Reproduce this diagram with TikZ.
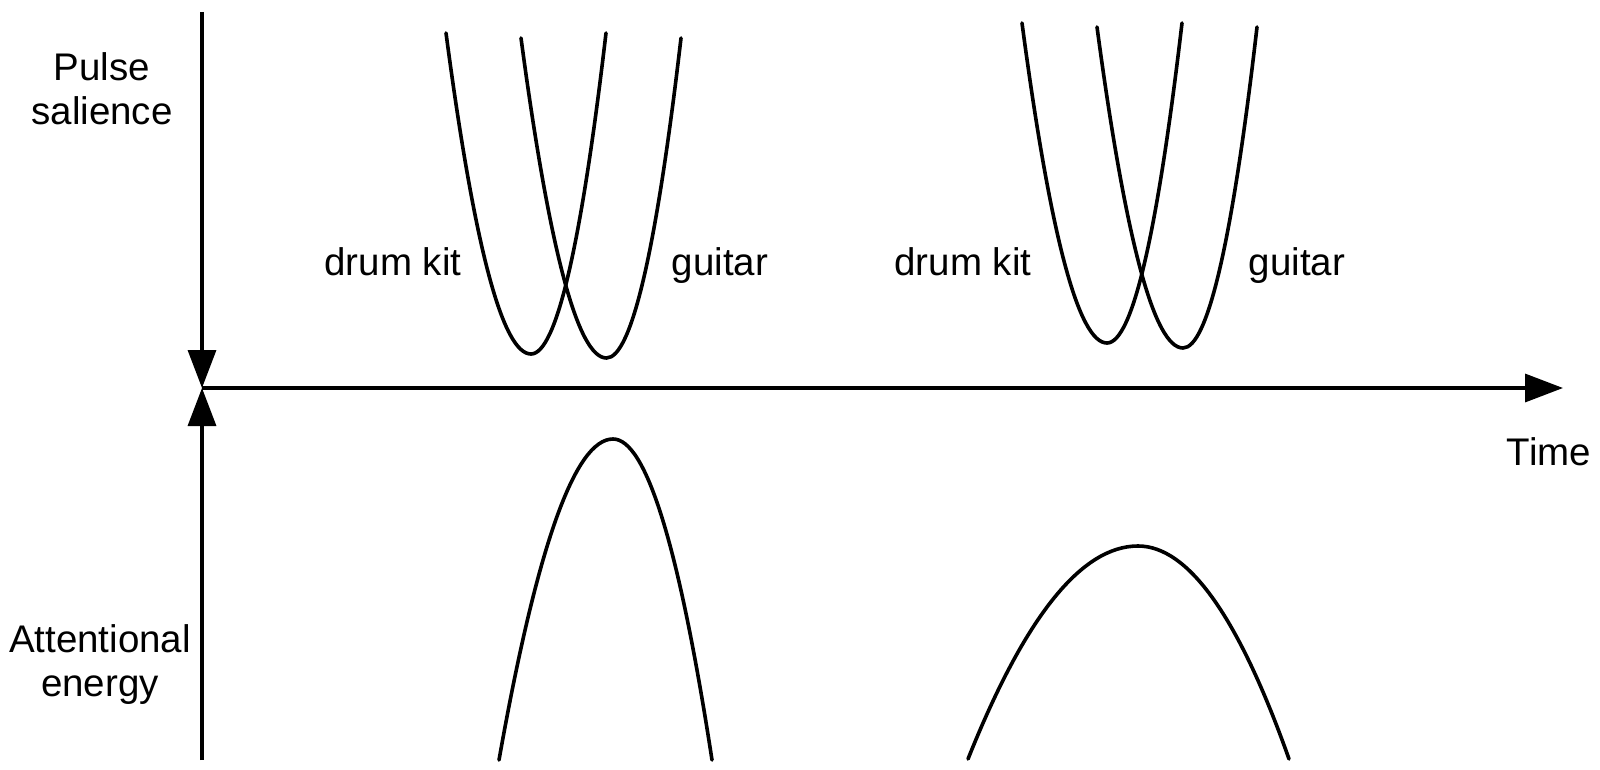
\documentclass[tikz,border=0pt]{standalone}
\usepackage{fontspec}
\setmainfont{Liberation Sans}
\usetikzlibrary{arrows.meta}
\begin{document}
\begin{tikzpicture}[x=1pt,y=-1pt,
  lbl/.style={font=\fontsize{38.5}{44}\selectfont, inner sep=0pt, anchor=base, align=center},
  curve/.style={line width=3.6pt, line cap=round},
  axisarrow/.style={-{Triangle[length=38pt,width=28pt]}, line width=3.4pt},
  pics/branch/.style args={#1/#2/#3}{code={
    \draw[curve] (-#1,-#3) .. controls (-2*#1/3,-#3/3) and (-#1/3,0) .. (0,0)
                 .. controls (#2/3,0) and (2*#2/3,-#3/3) .. (#2,-#3);
  }}]
\useasboundingbox (0,0) rectangle (1600,770);
% axes
\coordinate (ytop) at (202,12);
\coordinate (origin) at (202,388);
\coordinate (ybot) at (202,760);
\coordinate (xend) at (1563,388);
\draw[axisarrow] (ytop) -- (origin);
\draw[axisarrow] (ybot) -- (origin);
\draw[axisarrow] (origin) -- (xend);
% pulse salience curves
\pic at (531,354) {branch=85/75/321};
\pic at (606.5,358) {branch=85.5/74.5/320};
\pic at (1107,343) {branch=85/75/320};
\pic at (1183,348) {branch=86/74/321};
% attentional energy curves
\pic at (613,439) {branch=114/99/-321};
\pic at (1138,546) {branch=170/151/-213};
% labels (base = baseline of the last line)
\node[lbl] (pulse) at (102,125) {Pulse\\salience};
\node[lbl] (attn) at (100,696) {Attentional\\energy};
\node[lbl] (time) at (1549,465) {Time};
\node[lbl] (dk1) at (393,275) {drum kit};
\node[lbl] (gt1) at (720,275) {guitar};
\node[lbl] (dk2) at (963,275) {drum kit};
\node[lbl] (gt2) at (1297,275) {guitar};
\end{tikzpicture}
\end{document}
